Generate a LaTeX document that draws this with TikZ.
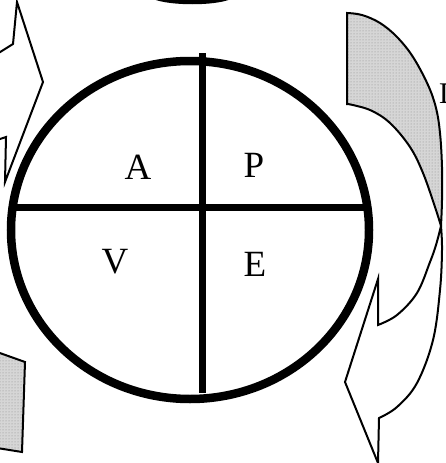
\documentclass[tikz,border=0pt]{standalone}
\usepackage{fontspec}
\setmainfont{Liberation Serif}
\usetikzlibrary{patterns}
\begin{document}
\begin{tikzpicture}[x=1pt,y=-1pt,
  ring/.style={line width=8.5pt},
  divider/.style={line width=7pt},
  letter/.style={font=\fontsize{37}{40}\selectfont, inner sep=0pt},
  band/.style={line width=2pt, line join=miter, fill=white},
  stipple/.style={line width=2pt, line join=miter, preaction={fill=gray!32}, pattern=dots, pattern color=gray!90}]
\useasboundingbox (0,0) rectangle (445,463);
\clip (0,0) rectangle (445,463);

% top black arc fragment
\fill (153,-1) .. controls (170,6) and (215,6) .. (231,-1) -- cycle;

% top-left outline arrow
\draw[band] (-3,54) -- (13,44) -- (17,2) -- (43,82) -- (5,182) -- (6,137) -- (-3,140);

% bottom-left stippled shape
\draw[stipple] (-3,352) -- (25,362) -- (22,452) -- (-3,448);

% right stippled band
\draw[stipple] (347,104) -- (347,13)
  -- plot[smooth, tension=0.6] coordinates {(347,13) (362,15) (380,23) (397,37) (413,57) (428,85) (436,108) (440,133) (442,167) (442,200) (441,226)}
  -- plot[smooth, tension=0.6] coordinates {(441,226) (435,207) (423,173) (410,147) (390,123) (370,110) (348,104)}
  -- cycle;

% right white arrow
\draw[band] (441,226)
  -- plot[smooth, tension=0.6] coordinates {(441,226) (442,250) (440,290) (433,340) (417,383) (397,407) (379,418)}
  -- (378,463) -- (345,382) -- (378,279) -- (378,325)
  -- plot[smooth, tension=0.6] coordinates {(378,325) (397,315) (417,293) (430,262) (436,245) (441,226)}
  -- cycle;

% partial letter at right edge (cut off in the reference)
\node[font=\fontsize{30}{32}\selectfont, inner sep=0pt, anchor=base west] (cut) at (438.8,103) {D};

% circle and dividers
\draw[ring] (190,230) ellipse [x radius=179pt, y radius=169pt];
\draw[divider] (202,53) -- (202,393);
\draw[divider] (13,207) -- (367,207);

% letters
\node[letter] (a) at (138,167) {A};
\node[letter] (p) at (254,165) {P};
\node[letter] (v) at (115,262) {V};
\node[letter] (e) at (255,264) {E};
\end{tikzpicture}
\end{document}
